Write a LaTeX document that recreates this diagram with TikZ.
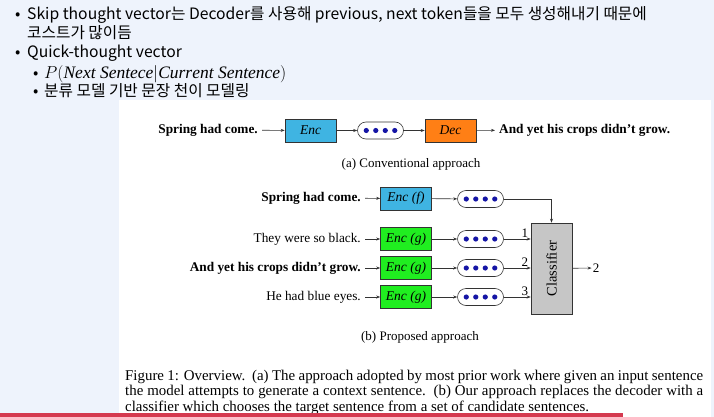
\documentclass[tikz,border=0pt]{standalone}
\usepackage{fontspec}
\setmainfont{Liberation Serif}
\newfontfamily\krfont{Noto Sans CJK KR}
\usetikzlibrary{arrows.meta}
\definecolor{bgc}{HTML}{EEF3FC}
\definecolor{redbar}{HTML}{D5394F}
\definecolor{encc}{HTML}{3FB4E2}
\definecolor{decc}{HTML}{FF7F15}
\definecolor{encg}{HTML}{20EE20}
\definecolor{clsc}{HTML}{C6C6C6}
\definecolor{dotc}{HTML}{1515A5}
\definecolor{linec}{HTML}{333333}
\tikzset{
  hdr/.style={anchor=base west, inner sep=0pt, font=\krfont\fontsize{15.7}{18}\selectfont},
  txt/.style={anchor=east, inner sep=4pt, font=\fontsize{13.3}{15}\selectfont},
  txtb/.style={txt, font=\fontsize{13.3}{15}\selectfont\bfseries},
  box/.style={draw=linec, line width=0.6pt, minimum width=51pt, minimum height=23pt, inner sep=0pt, font=\fontsize{13.5}{15}\selectfont\itshape},
  pill/.style={draw=linec, line width=0.6pt, rounded corners=8.5pt, minimum width=46pt, minimum height=17pt, inner sep=0pt},
  arr/.style={draw=linec, line width=0.6pt, -{Stealth[length=4pt,width=3pt]}},
  lbl/.style={inner sep=1pt, font=\fontsize{13}{15}\selectfont},
  figcap/.style={anchor=base west, inner sep=0pt, font=\fontsize{14.9}{16}\selectfont}
}
\newcommand{\vecdots}{\tikz[baseline=-2.5pt]{\foreach \i in {0,1,2,3}{\fill[dotc] (\i*9.5pt,0) circle (2.6pt);}}}
\begin{document}
\begin{tikzpicture}[x=1pt,y=-1pt]
\useasboundingbox (0,0) rectangle (714,417);
\fill[bgc] (0,0) rectangle (714,417);
\fill[white] (119,100) rectangle (711,417);

% header
\node[hdr] (b1) at (15,20) {•};
\node[hdr] (h1) at (27,20) {Skip thought vector는 Decoder를 사용해 previous, next token들을 모두 생성해내기 때문에};
\node[hdr] (h2) at (27,39) {코스트가 많이듬};
\node[hdr] (b3) at (15,58) {•};
\node[hdr] (h3) at (27,58) {Quick-thought vector};
\node[hdr] (b4) at (33,79) {•};
\node[hdr, font=\fontsize{17.5}{18}\selectfont] (h4) at (44,79) {$P(\mathit{Next\ Sentece}|\mathit{Current\ Sentence})$};
\node[hdr] (b5) at (33,97) {•};
\node[hdr] (h5) at (44,97) {분류 모델 기반 문장 천이 모델링};

% (a)
\node[txtb] (sa) at (262,130) {Spring had come.};
\node[box, fill=encc] (enca) at (310.5,130.5) {Enc};
\node[pill] (pa) at (380.5,130.5) {\vecdots};
\node[box, fill=decc] (deca) at (450.5,130.5) {Dec};
\node[txtb, anchor=west] (oa) at (495,130) {And yet his crops didn’t grow.};
\draw[arr] (sa) -- (enca);
\draw[arr] (enca) -- (pa);
\draw[arr] (pa) -- (deca);
\draw[arr] (deca) -- (oa);
\node[lbl] (capa) at (411,164) {(a) Conventional approach};

% (b)
\node[box, fill=clsc, minimum width=41pt, minimum height=91pt] (cls) at (551.5,268.5) {};
\node[rotate=90, font=\fontsize{14.5}{16}\selectfont] (clst) at (cls.center) {Classifier};

\node[txtb] (s0) at (365,198) {Spring had come.};
\node[box, fill=encc] (e0) at (406,198.5) {Enc (f)};
\node[pill] (p0) at (480.5,199) {\vecdots};
\draw[arr] (s0) -- (e0);
\draw[arr] (e0) -- (p0);
\draw[arr] (p0) -| (cls.north);

\node[txt] (s1) at (365,239) {They were so black.};
\node[txtb] (s2) at (365,268) {And yet his crops didn’t grow.};
\node[txt] (s3) at (365,297) {He had blue eyes.};
\foreach \k/\y in {1/239,2/268,3/297}{
  \node[box, fill=encg] (e\k) at (406,\y) {Enc (g)};
  \node[pill] (p\k) at (480.5,\y) {\vecdots};
  \draw[arr] (s\k) -- (e\k);
  \draw[arr] (e\k) -- (p\k);
  \draw[arr] (p\k) -- (cls.west |- p\k) node[lbl, pos=0.78, above] {\k};
}
\node[lbl] (o2) at (596,268) {2};
\draw[arr] (cls) -- (o2);
\node[lbl] (capb) at (420,337) {(b) Proposed approach};

% figure caption
\node[figcap] (c1) at (125,380) {\makebox[578pt][s]{Figure 1: Overview.\ \ (a) The approach adopted by most prior work where given an input sentence}};
\node[figcap] (c2) at (125,395.5) {\makebox[578pt][s]{the model attempts to generate a context sentence.\ \ (b) Our approach replaces the decoder with a}};
\node[figcap] (c3) at (125,411) {classifier which chooses the target sentence from a set of candidate sentences.};

\fill[redbar] (0,413) rectangle (623,417);
\end{tikzpicture}
\end{document}
